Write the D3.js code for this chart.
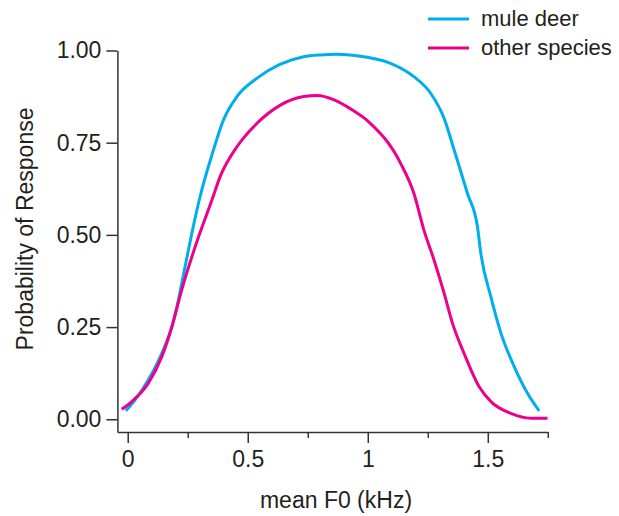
<!DOCTYPE html>
<html>
<head>
<meta charset="utf-8">
<script src="https://cdn.jsdelivr.net/npm/d3@7"></script>
<style>
  body { margin: 0; background: #fff; }
  text { font-family: "Liberation Sans", Arial, sans-serif; fill: #231f20; }
</style>
</head>
<body>
<div id="chart"></div>
<script>
// mean F0 (kHz) and probability of response
var deerF0 = [-0.008, 0.03, 0.086, 0.142, 0.184, 0.211, 0.239, 0.267, 0.3, 0.357, 0.399, 0.455,
    0.539, 0.636, 0.733, 0.803, 0.873, 0.984, 1.095, 1.192, 1.262, 1.318, 1.36, 1.415, 1.457, 1.471,
    1.513, 1.555, 1.61, 1.666, 1.714];
var deerP = [0.023, 0.052, 0.107, 0.179, 0.251, 0.323, 0.414, 0.504, 0.6, 0.73, 0.812, 0.875,
    0.925, 0.963, 0.983, 0.988, 0.99, 0.983, 0.965, 0.929, 0.884, 0.816, 0.73, 0.613, 0.522, 0.45,
    0.332, 0.233, 0.143, 0.07, 0.023];
var otherF0 = [-0.025, 0.017, 0.086, 0.142, 0.184, 0.225, 0.281, 0.351, 0.385, 0.455, 0.539, 0.636,
    0.733, 0.79, 0.86, 0.93, 1.005, 1.137, 1.192, 1.234, 1.276, 1.318, 1.353, 1.401, 1.464, 1.513, 1.596,
    1.68, 1.749];
var otherP = [0.027, 0.048, 0.098, 0.17, 0.251, 0.351, 0.468, 0.595, 0.658, 0.739, 0.803, 0.852,
    0.875, 0.878, 0.866, 0.841, 0.806, 0.694, 0.613, 0.513, 0.432, 0.342, 0.26, 0.179, 0.088, 0.048, 0.016,
    0.003, 0.003];
var seriesNames = ["mule deer", "other species"];
var seriesColors = ["#00aeef", "#ec008c"];
var yTicks = [0, 0.25, 0.5, 0.75, 1];
var xMajor = [0, 0.5, 1, 1.5];
var xMinor = [0.25, 0.75, 1.25, 1.75];

var width = 619, height = 516;

var svg = d3.select("#chart").append("svg")
    .attr("width", width)
    .attr("height", height);

var x = d3.scaleLinear().domain([-0.043, 1.75]).range([117.4, 547.8]);
var y = d3.scaleLinear().domain([-0.0345, 1]).range([432, 50.5]);

// y axis
svg.append("g")
    .attr("transform", "translate(117.4,0)")
    .call(d3.axisLeft(y).tickValues(yTicks).tickSize(11).tickSizeOuter(0).tickPadding(5)
        .tickFormat(d3.format(".2f")));

// x axis
svg.append("g")
    .attr("transform", "translate(0,432)")
    .call(d3.axisBottom(x).tickValues(xMajor).tickSize(11).tickSizeOuter(0).tickPadding(8)
        .tickFormat(function(d) { return d === 0 ? "0" : String(d); }));
svg.append("g")
    .attr("transform", "translate(0,432)")
    .call(d3.axisBottom(x).tickValues(xMinor).tickSize(6).tickFormat(""))
    .select(".domain").remove();

svg.selectAll(".domain, .tick line")
    .attr("stroke", "#333")
    .attr("stroke-width", 1.5);
svg.selectAll(".tick text")
    .attr("font-size", 23)
    .attr("font-family", "Liberation Sans, Arial, sans-serif")
    .attr("fill", "#231f20");

// axis titles
svg.append("text")
    .attr("transform", "translate(33,229) rotate(-90)")
    .attr("text-anchor", "middle")
    .attr("font-size", 23)
    .text("Probability of Response");

svg.append("text")
    .attr("x", 336)
    .attr("y", 508)
    .attr("text-anchor", "middle")
    .attr("font-size", 23)
    .text("mean F0 (kHz)");

// curves
var line = d3.line()
    .x(function(d) { return x(d[0]); })
    .y(function(d) { return y(d[1]); })
    .curve(d3.curveMonotoneX);

var series = [d3.zip(deerF0, deerP), d3.zip(otherF0, otherP)];

svg.selectAll(".curve")
    .data(series)
    .enter()
    .append("path")
    .attr("class", "curve")
    .attr("d", line)
    .attr("fill", "none")
    .attr("stroke", function(d, i) { return seriesColors[i]; })
    .attr("stroke-width", 3);

// legend
var legend = svg.selectAll(".legend")
    .data(seriesNames)
    .enter()
    .append("g")
    .attr("class", "legend")
    .attr("transform", function(d, i) { return "translate(0," + (19 + i * 29) + ")"; });

legend.append("line")
    .attr("x1", 428)
    .attr("x2", 469)
    .attr("stroke", function(d, i) { return seriesColors[i]; })
    .attr("stroke-width", 3);

legend.append("text")
    .attr("x", 481)
    .attr("y", 7)
    .attr("font-size", 22)
    .text(function(d) { return d; });
</script>
</body>
</html>
